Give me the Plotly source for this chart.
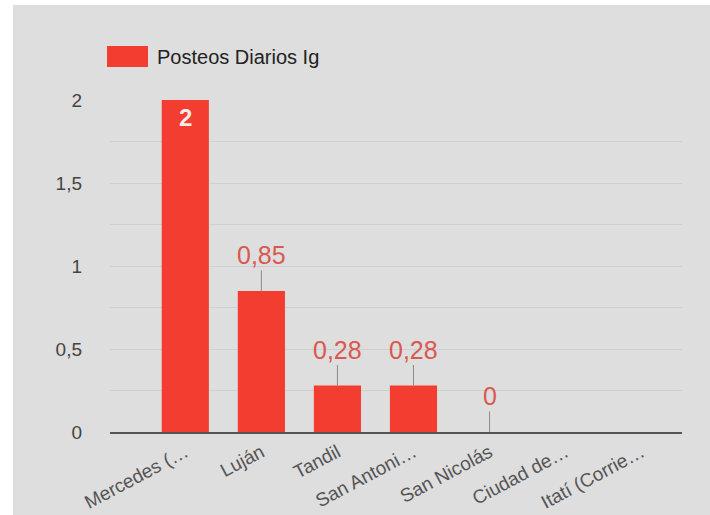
import plotly.graph_objects as go

# Data
ciudades = ["Mercedes (…", "Luján", "Tandil", "San Antoni…", "San Nicolás", "Ciudad de…", "Itatí (Corrie…"]
posteos = [2, 0.85, 0.28, 0.28, 0, None, None]
etiquetas = ["2", "0,85", "0,28", "0,28", "0", "", ""]
serie = "Posteos Diarios Ig"

W, H = 710, 515
ML, MR, MT, MB = 110, 28, 100, 83
BAR = "#f23d30"
LABEL = "#d9584f"
BG = "#dedede"
FONT = "Liberation Sans, Arial, sans-serif"

fig = go.Figure()
fig.add_trace(go.Bar(
    x=ciudades, y=posteos, marker=dict(color=BAR, line=dict(width=0)),
    width=0.62, showlegend=False, hoverinfo="x+y",
))

annotations = []
for c, v, t in zip(ciudades, posteos, etiquetas):
    if v is None:
        continue
    if v >= 1.5:
        annotations.append(dict(x=c, y=v, text="<b>" + t + "</b>", showarrow=False,
                                yanchor="top", yshift=-2,
                                font=dict(color="#fbeaea", size=24, family=FONT)))
    else:
        annotations.append(dict(x=c, y=v, text=t, showarrow=True, arrowhead=0, arrowwidth=1,
                                arrowcolor="#8a8a8a", ax=0, ay=-36, standoff=0,
                                font=dict(color=LABEL, size=25, family=FONT)))

pw = W - ML - MR
ph = H - MT - MB
# legend swatch and label
annotations.append(dict(xref="paper", yref="paper", x=(155 - ML) / pw, y=(H - MB - 57) / ph,
                        xanchor="left", yanchor="middle", text=serie, showarrow=False,
                        font=dict(color="#222", size=20, family=FONT)))

shapes = [
    # white strips along the left and top edges
    dict(type="rect", xref="paper", yref="paper", layer="below",
         x0=-ML / pw, x1=(13 - ML) / pw, y0=-MB / ph, y1=(H - MB) / ph,
         fillcolor="white", line=dict(width=0)),
    dict(type="rect", xref="paper", yref="paper", layer="below",
         x0=-ML / pw, x1=(W - ML) / pw, y0=(H - MB - 5) / ph, y1=(H - MB) / ph,
         fillcolor="white", line=dict(width=0)),
    # legend swatch
    dict(type="rect", xref="paper", yref="paper",
         x0=(107 - ML) / pw, x1=(148 - ML) / pw, y0=(H - MB - 67) / ph, y1=(H - MB - 46) / ph,
         fillcolor=BAR, line=dict(width=0)),
]

fig.update_layout(
    width=W, height=H,
    margin=dict(l=ML, r=MR, t=MT, b=MB, pad=0, autoexpand=False),
    paper_bgcolor=BG, plot_bgcolor=BG,
    separators=",.",
    font=dict(family=FONT, color="#444"),
    annotations=annotations, shapes=shapes,
    xaxis=dict(type="category", range=[-0.99, 6.53], tickangle=-28, showgrid=False,
               showline=True, linecolor="#555", linewidth=2, ticks="", automargin=False,
               tickfont=dict(size=19, color="#555", family=FONT), fixedrange=True),
    yaxis=dict(range=[0, 2], tickvals=[0, 0.5, 1, 1.5, 2], ticktext=["0", "0,5", "1", "1,5", "2"],
               showgrid=True, gridcolor="#d0d0d0", gridwidth=1, zeroline=False, automargin=False,
               minor=dict(dtick=0.25, showgrid=True, gridcolor="#d0d0d0", gridwidth=1),
               ticklabelstandoff=27, tickfont=dict(size=19, color="#444", family=FONT),
               fixedrange=True),
)

# keep the page flush with the figure
page_css = ("document.body.style.margin='0';document.body.style.overflow='hidden';"
            "document.body.style.background='" + BG + "';")
fig.write_html("out.html", config={"displayModeBar": False}, post_script=page_css)
